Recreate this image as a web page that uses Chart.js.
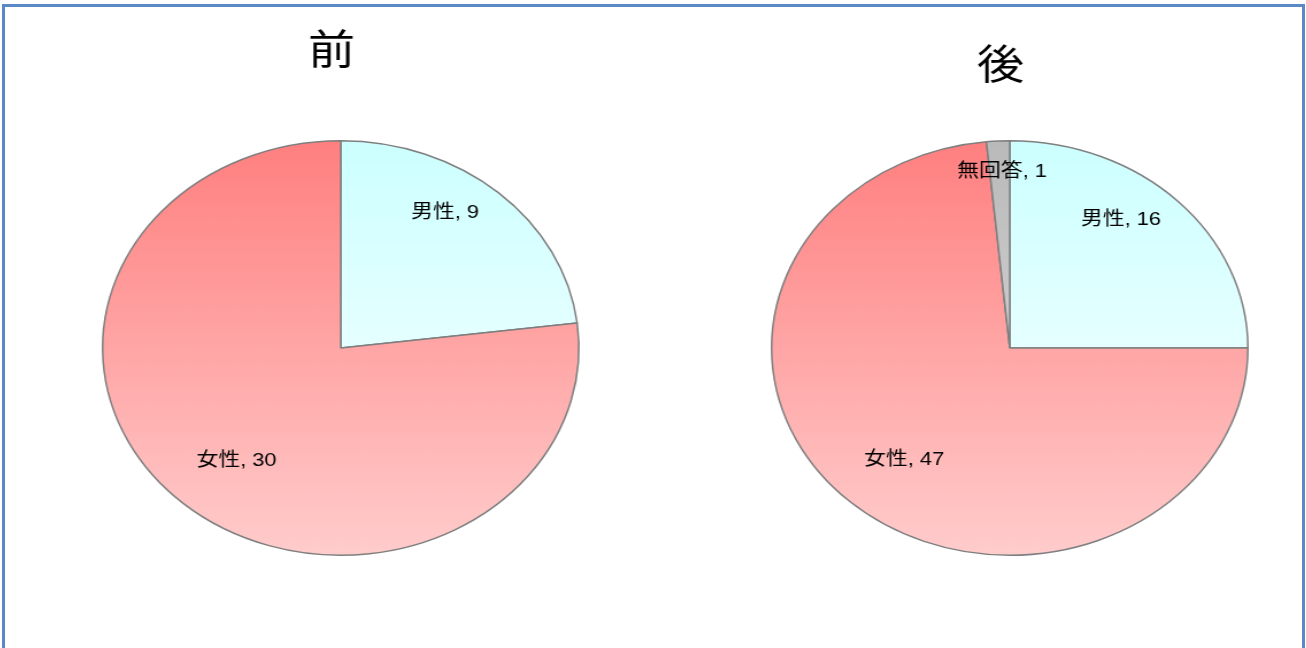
<!DOCTYPE html>
<html>
<head>
<meta charset="utf-8">
<script src="https://cdn.jsdelivr.net/npm/chart.js@4.4.1/dist/chart.umd.min.js"></script>
<style>
  body { margin: 0; background: #fff; width: 1306px; height: 648px; overflow: hidden; position: relative; }
  #frame { position: absolute; left: 2px; top: 4px; width: 1297px; height: 680px; border: 3px solid #5b89c6; }
  canvas { position: absolute; top: 0; transform-origin: 0 0; transform: scaleX(1.149); }
  #before { left: 42px; }
  #after { left: 711px; }
</style>
</head>
<body>
<div id="frame"></div>
<canvas id="before" width="520" height="648"></canvas>
<canvas id="after" width="520" height="648"></canvas>
<script>
// data
const categories = ['男性', '女性', '無回答'];
const beforeValues = [9, 30, 0];
const afterValues = [16, 47, 1];
const chartTitles = ['前', '後'];

// slice gradients, top -> bottom
const topColors = ['#ccffff', '#ff7f7f', '#b9b9b9'];
const bottomColors = ['#ffffff', '#ffcccc', '#e2e2e2'];

// labels "名前, 値" and the title, drawn after the slices
const sliceLabels = {
  id: 'sliceLabels',
  afterDatasetsDraw(chart, args, opts) {
    const ctx = chart.ctx;
    const meta = chart.getDatasetMeta(0);
    const values = chart.data.datasets[0].data;
    ctx.save();
    ctx.fillStyle = '#000';
    ctx.textAlign = 'center';
    ctx.textBaseline = 'middle';
    ctx.font = '19px "Liberation Sans", "Noto Sans CJK JP", sans-serif';
    meta.data.forEach((arc, i) => {
      if (!values[i]) return;
      const p = arc.getProps(['x', 'y', 'startAngle', 'endAngle', 'outerRadius'], true);
      const theta = (p.startAngle + p.endAngle) / 2 + Math.PI / 2;
      const x = p.x + opts.kx * p.outerRadius * Math.sin(theta);
      const y = p.y - opts.ky * p.outerRadius * Math.cos(theta) + opts.dy;
      ctx.fillText(chart.data.labels[i] + ', ' + values[i], x, y);
    });
    const area = chart.chartArea;
    ctx.font = '41px "Noto Sans CJK JP", sans-serif';
    ctx.fillText(opts.title, (area.left + area.right) / 2 + opts.titleDx, opts.titleY);
    ctx.restore();
  }
};

function makePie(id, values, title, titleY) {
  return new Chart(document.getElementById(id), {
    type: 'pie',
    data: {
      labels: categories,
      datasets: [{
        data: values,
        backgroundColor: (c) => {
          const area = c.chart.chartArea;
          if (!area) return topColors[c.dataIndex];
          const g = c.chart.ctx.createLinearGradient(0, area.top, 0, area.bottom);
          g.addColorStop(0, topColors[c.dataIndex]);
          g.addColorStop(1, bottomColors[c.dataIndex]);
          return g;
        },
        borderColor: '#7f7f7f',
        borderWidth: 1.5
      }]
    },
    options: {
      responsive: false,
      animation: false,
      layout: { padding: { top: 140, bottom: 92, left: 52, right: 52 } },
      plugins: {
        legend: { display: false },
        tooltip: { enabled: false },
        sliceLabels: { kx: 0.66, ky: 0.8, dy: -11, title: title, titleY: titleY, titleDx: -8 }
      }
    },
    plugins: [sliceLabels]
  });
}

makePie('before', beforeValues, chartTitles[0], 48);
makePie('after', afterValues, chartTitles[1], 63);
</script>
</body>
</html>
